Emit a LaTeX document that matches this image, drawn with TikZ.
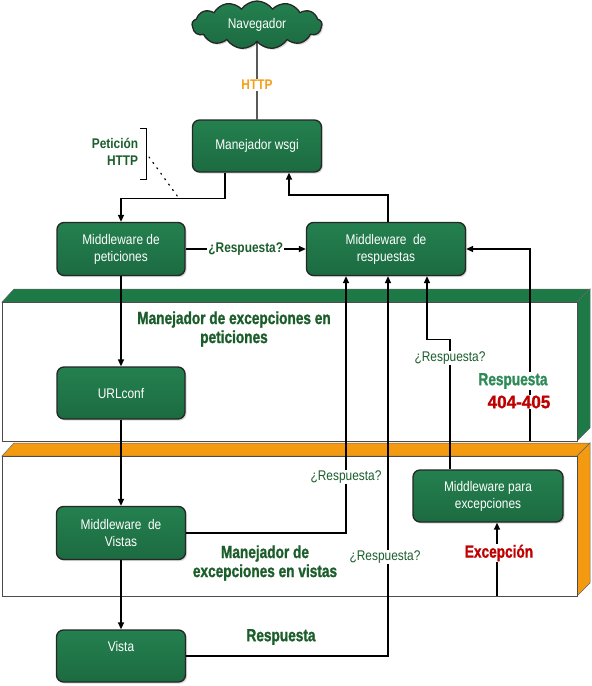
\documentclass[tikz,border=0pt]{standalone}
\usepackage{fontspec}
\setmainfont{Liberation Sans}[FakeStretch=0.85]
\newfontfamily\condfont{Liberation Sans}[FakeStretch=0.78,FakeBold=1.2]
\newfontfamily\numfont{Liberation Sans}[FakeStretch=0.95,FakeBold=1.2]
\usepackage{tikz}
\usetikzlibrary{arrows.meta,positioning,shapes.symbols,shadows}

\definecolor{boxgreen}{HTML}{1C6B41}
\definecolor{boxgreenlt}{HTML}{24804F}
\definecolor{slabgreen}{HTML}{1D7A46}
\definecolor{slaborange}{HTML}{F39A10}
\definecolor{txtgreen}{HTML}{1B5E2B}
\definecolor{lightgreen}{HTML}{2E8B57}
\definecolor{errred}{HTML}{C00000}
\definecolor{httporange}{HTML}{F5A01A}

\begin{document}
\begin{tikzpicture}[
x=1pt, y=-1pt,
font=\fontsize{14}{17}\selectfont,
block/.style={draw=black!85, line width=1.3pt, rounded corners=7pt, top color=boxgreenlt, bottom color=boxgreen, text=white, align=center, inner sep=2pt, drop shadow={opacity=0.3,shadow xshift=1.5pt,shadow yshift=-1.5pt}},
conn/.style={line width=1.4pt, -{Triangle[length=7pt,width=6pt]}},
plain/.style={line width=1.4pt},
ask/.style={fill=white, text=txtgreen, inner sep=1pt},
tag/.style={font=\condfont\bfseries\fontsize{17.5}{19}\selectfont, align=center, inner sep=1pt}
]
    \useasboundingbox (0,0) rectangle (592,686);

    % Draw slabs
    \fill [slabgreen, draw=black!60, line width=0.5pt]
    (2,302) -- (14,289) -- (590,289) -- (577,302) -- cycle;
    \fill [slabgreen, draw=black!60, line width=0.5pt]
    (577,302) -- (590,289) -- (590,428) -- (577,441) -- cycle;
    \draw [black!70, line width=0.6pt, fill=white] (2,302) rectangle (577,441);

    \fill [slaborange, draw=black!60, line width=0.5pt]
    (2,456) -- (14,443) -- (590,443) -- (577,456) -- cycle;
    \fill [slaborange, draw=black!60, line width=0.5pt]
    (577,456) -- (590,443) -- (590,583) -- (577,596) -- cycle;
    \draw [black!70, line width=0.6pt, fill=white] (2,456) rectangle (577,596);

    % Draw blocks
    \node[block, cloud, cloud puffs=13, cloud puff arc=110, aspect=2.6, sharp corners,
      minimum width=130pt, minimum height=48pt] (nav) at (257,25) {Navegador};
    \node[block, minimum width=129pt, minimum height=52pt] (wsgi) at (257,146) {Manejador wsgi};
    \node[block, minimum width=128pt, minimum height=53pt] (mpet) at (121,249) {Middleware de\\peticiones};
    \node[block, minimum width=159pt, minimum height=53pt] (mres) at (386,249) {Middleware~ de\\respuestas};
    \node[block, minimum width=128pt, minimum height=52pt] (url) at (121,393) {URLconf};
    \node[block, minimum width=129pt, minimum height=53pt] (mvis) at (121,533) {Middleware~ de\\Vistas};
    \node[block, minimum width=129pt, minimum height=52pt] (vista) at (121,656) {Vista\\[2pt]\phantom{V}};
    \node[block, minimum width=150pt, minimum height=52pt] (mexc) at (488,496) {Middleware para\\excepciones};

    \coordinate (excsrc) at (497,596);
    \coordinate (r404src) at (530,441);

    % Draw connectors
    \draw[plain] (nav.south) -- (wsgi.north);
    \draw[conn] ([xshift=-32pt]wsgi.south) -- ++(0,26) -| (mpet.north);
    \draw[conn] (mpet) -- node[ask, font=\bfseries\fontsize{14}{17}\selectfont] (ask1) {¿Respuesta?} (mres);
    \draw[conn] ([xshift=2pt]mres.north) -- ++(0,-27) -| ([xshift=32pt]wsgi.south);
    \draw[conn] (mpet) -- (url);
    \draw[conn] (url) -- (mvis);
    \draw[conn] (mvis) -- (vista);
    \draw[conn] (mvis.east) -| ([xshift=-40pt]mres.south);
    \draw[conn] (vista.east) -| ([xshift=2pt]mres.south);
    \draw[conn] ([xshift=-38pt]mexc.north) -- ++(0,-130) -| ([xshift=41pt]mres.south);
    \draw[conn] (excsrc) -- ([xshift=9pt]mexc.south);
    \draw[conn] (r404src) |- (mres.east);

    % Bracket for the request
    \draw[line width=0.8pt] (140,128) -| (146,179) -- (140,179);
    \draw[line width=1.2pt, dash pattern=on 1.2pt off 5.5pt, line cap=round] (149,157) -- (178,197);

    % Labels
    \node[font=\bfseries\fontsize{14}{16}\selectfont, text=httporange, fill=white, inner sep=1pt] (http) at (257,85) {HTTP};
    \node[font=\bfseries\fontsize{14}{17}\selectfont, text=txtgreen, align=right] (pet) at (115,152) {Petición\\HTTP};
    \node[ask] (ask2) at (346,477) {¿Respuesta?};
    \node[ask] (ask3) at (385,557) {¿Respuesta?};
    \node[ask] (ask4) at (450,358) {¿Respuesta?};

    \node[tag, text=txtgreen] (mgpet) at (234,329) {Manejador de excepciones en\\peticiones};
    \node[tag, text=txtgreen] (mgvis) at (265,563) {Manejador de\\excepciones en vistas};
    \node[tag, text=txtgreen] (resp) at (281,637) {Respuesta};
    \node[tag, text=lightgreen, fill=white] (r404a) at (513,381) {Respuesta};
    \node[tag, font=\numfont\bfseries\fontsize{18}{19}\selectfont, text=errred, fill=white] (r404b) at (519,402) {404-405};
    \node[tag, text=errred, fill=white] (exc) at (499,553) {Excepción};

\end{tikzpicture}
\end{document}
